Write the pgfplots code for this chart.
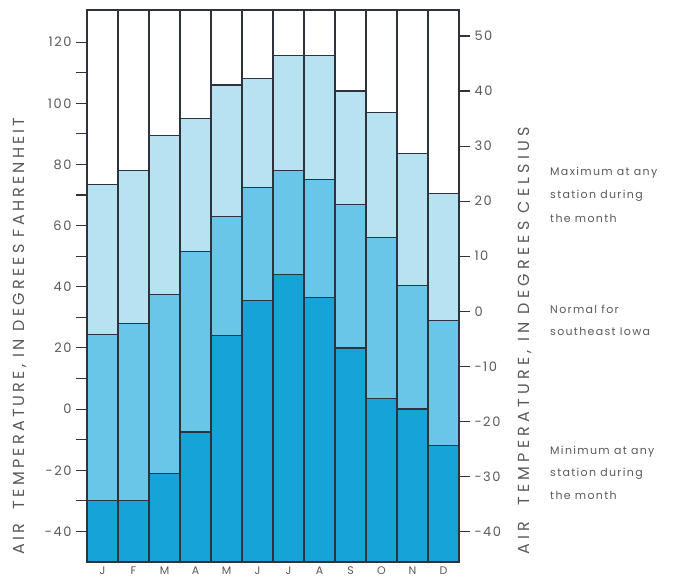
\documentclass[border=0pt]{standalone}
\usepackage{pgfplots}
\pgfplotsset{compat=1.18}
\usepackage{pgfplotstable}
\usepackage{fontspec}
\setmainfont{Poppins}[LetterSpace=12]
\newfontfamily\lblfont{Poppins}[LetterSpace=20]
\newfontfamily\lblfontb{Poppins}[LetterSpace=26]
\definecolor{lightb}{RGB}{182,226,242}
\definecolor{midb}{RGB}{104,198,232}
\definecolor{darkb}{RGB}{22,164,214}
\definecolor{frame}{RGB}{45,50,60}
\definecolor{txt}{RGB}{90,90,90}

% temperatures in degrees Fahrenheit
\pgfplotstableread{
x min normal max
0 -30 24.5 73.5
1 -30 28 78
2 -21 37.5 89.5
3 -7.5 51.5 95
4 24 63 106
5 35.5 72.5 108
6 44 78 115.5
7 36.5 75 115.5
8 20 67 104
9 3.5 56 97
10 0 40.5 83.5
11 -12 29 70.5
}\data

\begin{document}
\begin{tikzpicture}
\path[use as bounding box] (0pt,0pt) rectangle (683pt,579pt);
% y axis in (F + 50)
\begin{axis}[
  at={(87pt,17pt)}, anchor=south west,
  scale only axis, width=372pt, height=552pt,
  xmin=-0.5, xmax=11.5, ymin=0, ymax=180.5,
  ybar stacked, bar width=1, bar shift=0pt,
  ytick={10,30,...,170}, yticklabels={-40,-20,0,20,40,60,80,100,120},
  minor ytick={20,40,...,160},
  ytick pos=left, tick align=outside,
  major tick length=11pt, minor tick length=11pt,
  xtick={0,...,11}, xticklabels={J,F,M,A,M,J,J,A,S,O,N,D},
  xtick style={draw=none},
  axis line style={frame, line width=1.3pt},
  every tick/.style={frame, line width=1.1pt},
  yticklabel style={font=\fontsize{13}{13}\selectfont, text=txt, xshift=-1pt},
  xticklabel style={font=\fontsize{11}{11}\selectfont, text=txt, yshift=10pt},
  axis on top,
]
\addplot[fill=darkb, draw=frame, line width=1.2pt] table[x=x, y expr=\thisrow{min}+50] {\data};
\addplot[fill=midb, draw=frame, line width=1.2pt] table[x=x, y expr=\thisrow{normal}-\thisrow{min}] {\data};
\addplot[fill=lightb, draw=frame, line width=1.2pt] table[x=x, y expr=\thisrow{max}-\thisrow{normal}] {\data};
\addplot[fill=white, draw=frame, line width=1.2pt] table[x=x, y expr=130.5-\thisrow{max}] {\data};
\end{axis}
\begin{axis}[
  at={(87pt,17pt)}, anchor=south west,
  scale only axis, width=372pt, height=552pt,
  xmin=-0.5, xmax=11.5, ymin=-45.556, ymax=54.722,
  axis x line=none, axis y line*=right,
  ytick={-40,-30,...,50}, tick align=outside,
  major tick length=11pt,
  axis line style={frame, line width=1.3pt},
  every tick/.style={frame, line width=1.1pt},
  /pgf/number format/assume math mode=true,
  yticklabel style={font=\fontsize{13}{13}\selectfont, text=txt, xshift=1pt},
]
\addplot[draw=none] coordinates {(0,0)};
\end{axis}
\node[rotate=90, anchor=west, text=txt, font=\lblfont\fontsize{16}{16}\selectfont, inner sep=0pt] at (20pt,24pt) {AIR\ \ TEMPERATURE, IN DEGREES FAHRENHEIT};
\node[rotate=90, anchor=west, text=txt, font=\lblfontb\fontsize{16}{16}\selectfont, inner sep=0pt] at (525pt,24pt) {AIR\ \ TEMPERATURE, IN DEGREES CELSIUS};
\begin{scope}[every node/.style={anchor=west, text=txt, font=\fontsize{11}{11}\selectfont, inner sep=0pt}]
\node at (550pt,406pt) {Maximum at any};
\node at (550pt,383pt) {station during};
\node at (550pt,361pt) {the month};
\node at (550pt,270pt) {Normal for};
\node at (550pt,248pt) {southeast Iowa};
\node at (550pt,127pt) {Minimum at any};
\node at (550pt,105pt) {station during};
\node at (550pt,84pt) {the month};
\end{scope}
\end{tikzpicture}
\end{document}
